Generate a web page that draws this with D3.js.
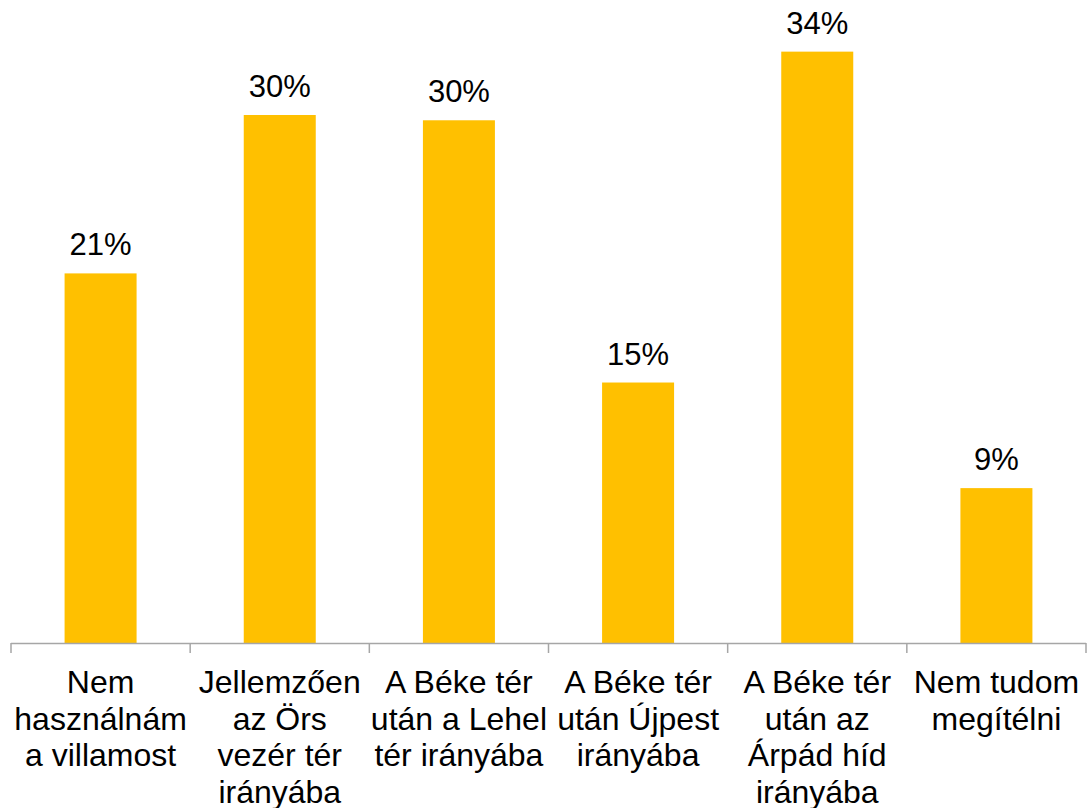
<!DOCTYPE html>
<html>
<head>
<meta charset="utf-8">
<script src="https://cdn.jsdelivr.net/npm/d3@7"></script>
<style>
  body { margin: 0; background: #fff; }
  svg { display: block; font-family: "Liberation Sans", Arial, sans-serif; }
</style>
</head>
<body>
<div id="chart-container"></div>
<script>
// kategóriák (sortörésekkel, ahogy a képen)
const categories = [
  "Nem\nhasználnám\na villamost",
  "Jellemzően\naz Örs\nvezér tér\nirányába",
  "A Béke tér\nután a Lehel\ntér irányába",
  "A Béke tér\nután Újpest\nirányába",
  "A Béke tér\nután az\nÁrpád híd\nirányába",
  "Nem tudom\nmegítélni"
];
const values = [21.0, 30.0, 29.7, 14.8, 33.6, 8.8];
const valueLabels = ["21%", "30%", "30%", "15%", "34%", "9%"];

const width = 1087, height = 808;
const marginLeft = 11, marginRight = 1, marginTop = 27, axisY = 643;

const svg = d3.select("#chart-container")
  .append("svg")
  .attr("width", width)
  .attr("height", height);

// kategóriasávok a tengelyen
const xScale = d3.scaleBand()
  .domain(d3.range(categories.length))
  .range([marginLeft, width - marginRight])
  .padding(0);

const xCenter = i => xScale(i) + xScale.bandwidth() / 2;

const yScale = d3.scaleLinear()
  .domain([0, 35])
  .range([axisY, marginTop]);

const barW = 72;

// oszlopok
svg.selectAll("rect.bar")
  .data(values)
  .enter()
  .append("rect")
  .attr("class", "bar")
  .attr("x", (d, i) => xCenter(i) - barW / 2)
  .attr("y", d => yScale(d))
  .attr("width", barW)
  .attr("height", d => axisY - yScale(d))
  .attr("fill", "#FFC000");

// értékcímkék
svg.selectAll("text.val")
  .data(values)
  .enter()
  .append("text")
  .attr("class", "val")
  .attr("x", (d, i) => xCenter(i))
  .attr("y", d => yScale(d) - 18)
  .attr("text-anchor", "middle")
  .attr("font-size", 31)
  .attr("fill", "#000")
  .text((d, i) => valueLabels[i]);

// x tengely vonal + osztásjelek
const axisG = svg.append("g");
axisG.append("line")
  .attr("x1", marginLeft).attr("x2", width - marginRight)
  .attr("y1", axisY + 0.5).attr("y2", axisY + 0.5)
  .attr("stroke", "#A6A6A6").attr("stroke-width", 1.5);
axisG.selectAll("line.tick")
  .data(d3.range(categories.length + 1))
  .enter()
  .append("line")
  .attr("class", "tick")
  .attr("x1", i => marginLeft + xScale.step() * i)
  .attr("x2", i => marginLeft + xScale.step() * i)
  .attr("y1", axisY)
  .attr("y2", axisY + 10)
  .attr("stroke", "#A6A6A6").attr("stroke-width", 1.5);

// kategóriacímkék
const labels = svg.selectAll("text.cat")
  .data(categories)
  .enter()
  .append("text")
  .attr("class", "cat")
  .attr("text-anchor", "middle")
  .attr("font-size", 32)
  .attr("fill", "#000");

labels.each(function (d, i) {
  const t = d3.select(this);
  d.split("\n").forEach((line, j) => {
    t.append("tspan")
      .attr("x", xCenter(i))
      .attr("y", axisY + 50 + j * 36.7)
      .text(line);
  });
});
</script>
</body>
</html>
